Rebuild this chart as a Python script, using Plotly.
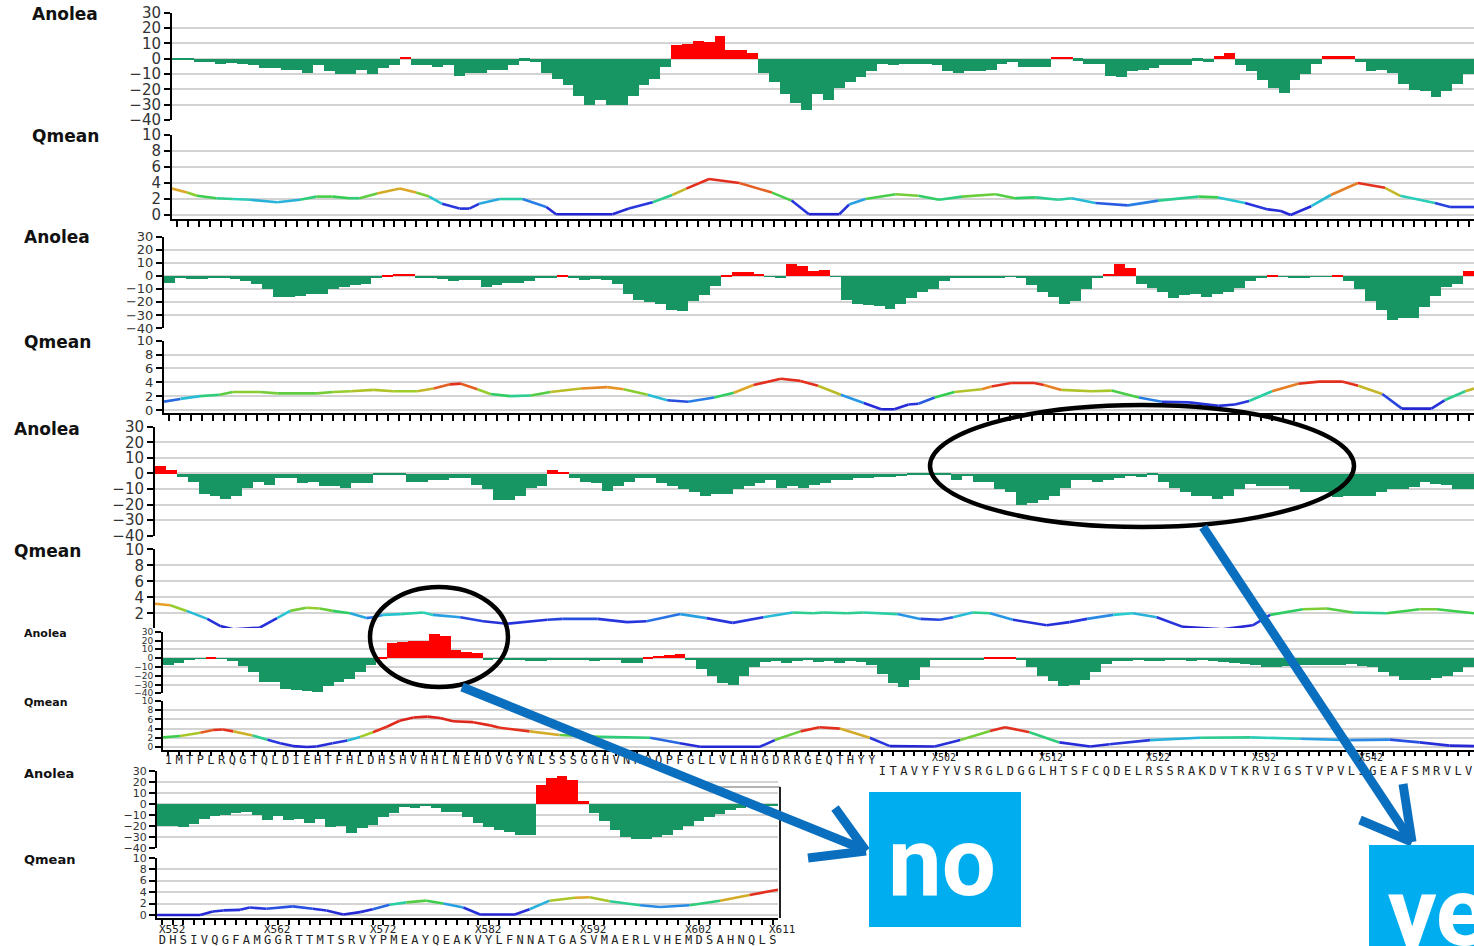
import plotly.graph_objects as go

W, H = 1474, 946

# ---------------- data ----------------
anolea_p1 = [-0.3, -0.3, -2, -2, -3, -2.5, -3, -4, -6, -6,
             -7, -7, -9, -4, -8, -10, -10, -7, -10, -6,
             -4, 1, -4, -4, -5, -4, -11, -9, -9, -7,
             -7, -4, -1, -2, -9, -13, -17, -24, -30, -27,
             -30, -30, -24, -17, -13, -5, 9, 10, 12, 11,
             15, 6, 6, 4, -9, -15, -23, -29, -33, -23,
             -27, -19, -15, -12, -8, -3, -4, -3, -3, -3,
             -4, -8, -9, -8, -8, -7, -3, -2, -5, -5,
             -5, 1, 1, -1, -3, -3, -11, -12, -8, -7,
             -6, -4, -4, -4, -1, -2, 2, 4, -4, -8,
             -14, -19, -22, -14, -10, -3, 2, 2, 2, -2,
             -8, -7, -9, -16, -20, -21, -25, -21, -16, -10]
qmean_p1_x = [-0.5, 0.9, 1.8, 3.6, 5.1, 6.7, 9.2, 11.3, 12.8, 14.3,
              15.9, 16.8, 18.4, 20.5, 22.0, 23.2, 24.4, 26.0, 26.9, 27.8,
              29.7, 31.8, 34.0, 34.9, 40.1, 41.6, 43.8, 45.6, 46.9, 49.0,
              51.8, 54.8, 56.6, 58.2, 61.0, 61.9, 63.4, 66.2, 68.3, 70.2,
              72.3, 75.4, 77.2, 79.1, 81.2, 82.4, 84.6, 87.6, 90.4, 94.1,
              95.9, 98.4, 100.5, 101.7, 102.6, 104.5, 106.3, 108.8, 111.3, 112.7,
              115.9, 117.3, 119.5]
qmean_p1_y = [3.3, 2.8, 2.4, 2.1, 2.0, 1.9, 1.6, 1.9, 2.3, 2.3,
              2.1, 2.1, 2.7, 3.3, 2.8, 2.3, 1.4, 0.8, 0.8, 1.4,
              2.0, 2.0, 1.0, 0.1, 0.1, 0.8, 1.6, 2.5, 3.3, 4.5,
              4.0, 2.8, 1.8, 0.1, 0.1, 1.3, 2.0, 2.6, 2.4, 1.9,
              2.3, 2.6, 2.1, 2.2, 1.9, 2.1, 1.5, 1.2, 1.8, 2.3,
              2.2, 1.5, 0.7, 0.5, 0.0, 1.1, 2.5, 4.0, 3.4, 2.4,
              1.5, 1.0, 1.0]

anolea_p2 = [-5, -1, -2, -2, -1, -1, -2, -4, -6, -10,
             -16, -16, -15, -14, -14, -10, -8, -7, -6, -1,
             1, 2, 2, -1, -1, -2, -4, -3, -3, -8,
             -7, -5, -5, -4, -1, -1, 1, -1, -3, -2,
             -3, -6, -14, -18, -20, -21, -26, -27, -19, -14.5,
             -7.6, 1, 3, 3, 2, -0.5, -1, 9, 8, 4,
             5, -0.5, -18, -21, -22, -23, -25, -21, -17, -12,
             -10, -4, -1, -1, -1, -1, -1, -0.5, -1, -7,
             -12, -16, -21, -19, -10, -1.5, 2, 9, 6, -6,
             -9, -12, -17, -14.5, -14, -16, -14, -12, -9, -4,
             -1, 1, -0.5, -1, -1, -0.5, -0.5, 1, -4, -10,
             -19, -26, -34, -32, -32, -24, -15, -8, -6, 4]
qmean_p2_x = [-0.5, 1.0, 2.8, 4.6, 5.8, 8.3, 9.9, 13.5, 15.0, 16.6,
              18.7, 20.5, 22.7, 24.2, 25.7, 26.7, 28.2, 29.4, 31.2, 33.1,
              34.9, 37.7, 40.1, 41.6, 43.8, 45.6, 47.5, 49.9, 51.7, 53.5,
              56.0, 57.8, 59.4, 61.5, 63.6, 65.2, 66.4, 67.7, 68.6, 70.1,
              71.9, 74.4, 75.3, 77.1, 79.2, 80.1, 81.7, 84.5, 86.3, 88.8,
              90.9, 93.4, 96.1, 97.6, 98.9, 101.0, 103.4, 105.3, 107.4, 108.9,
              111.1, 112.9, 115.6, 116.8, 118.7, 119.5]
qmean_p2_y = [1.2, 1.6, 2.0, 2.2, 2.6, 2.6, 2.4, 2.4, 2.6, 2.7,
              2.9, 2.7, 2.7, 3.1, 3.7, 3.8, 3.0, 2.3, 2.0, 2.1,
              2.6, 3.1, 3.3, 3.0, 2.2, 1.4, 1.2, 1.8, 2.5, 3.6,
              4.5, 4.2, 3.5, 2.2, 1.0, 0.1, 0.1, 0.8, 0.9, 1.8,
              2.6, 3.0, 3.4, 3.9, 3.9, 3.6, 2.9, 2.7, 2.8, 1.8,
              1.2, 1.1, 0.6, 0.8, 1.3, 2.7, 3.8, 4.1, 4.1, 3.5,
              2.3, 0.2, 0.2, 1.4, 2.7, 3.1]

anolea_p3 = [5, 2.5, -2, -5, -13, -14.5, -16, -14, -9, -5,
             -7, -3, -2.5, -6, -5, -8, -8, -9, -6, -6,
             -0.5, -1, -0.5, -5, -5, -4, -4, -3, -3, -7,
             -10, -17, -17, -14, -9, -8, 2.5, 1, -3, -5,
             -6, -11, -8, -5, -3, -3, -6, -8, -10, -12,
             -14, -13, -13, -10, -8, -6, -4, -9, -8, -9,
             -7, -6, -4, -4, -3, -3, -2, -2, -1.5, -0.5,
             -1, -1, -1, -4, -1.5, -5, -5, -10, -12, -20,
             -19, -17, -14, -9, -4, -4, -5, -4, -2.5, -1.5,
             -2, -1, -5, -9, -12, -14, -14, -16, -14, -10,
             -6.5, -8, -8, -8, -10, -12, -12, -12, -15, -14,
             -14, -14, -12, -10, -10, -8.5, -5.5, -6.5, -7.5, -10, -10]
qmean_p3_x = [-0.5, 0.9, 2.4, 4.3, 5.5, 6.7, 9.1, 10.7, 11.9, 13.4,
              14.6, 15.8, 17.4, 18.9, 19.5, 20.4, 22.0, 24.1, 25.0, 27.5,
              29.6, 31.8, 35.5, 36.9, 40.1, 42.8, 44.6, 47.7, 50.1, 52.5,
              55.3, 58.0, 59.9, 60.8, 63.0, 64.5, 67.6, 69.7, 71.5, 72.7,
              74.5, 76.1, 78.2, 81.3, 83.4, 85.0, 87.4, 89.2, 91.4, 93.8,
              97.4, 100.2, 101.8, 104.8, 107.0, 109.4, 112.5, 115.5, 117.1, 120.5]
qmean_p3_y = [3.2, 3.0, 2.3, 1.3, 0.4, 0.0, 0.2, 1.4, 2.3, 2.7,
              2.6, 2.3, 2.0, 1.4, 1.5, 1.8, 1.9, 2.1, 1.8, 1.5,
              1.0, 0.7, 1.2, 1.3, 1.3, 0.9, 1.0, 1.9, 1.4, 0.8,
              1.5, 2.1, 2.0, 2.1, 2.0, 2.1, 1.9, 1.3, 1.2, 1.5,
              2.1, 2.0, 1.2, 0.5, 0.9, 1.3, 1.8, 2.0, 1.5, 0.3,
              0.0, 0.5, 1.8, 2.5, 2.6, 2.1, 2.0, 2.5, 2.5, 2.0]

anolea_p4 = [-7, -5, -2, -0.3, 1, -0.5, -3, -9, -15, -27,
             -27, -35, -36, -37, -38, -31, -27, -23, -16, -8,
             2, 17, 19, 20, 20, 28, 26, 10, 7, 6,
             -1, -0.5, -1, -1, -3, -3, -2, -2, -2, -2,
             -3, -2, -2, -5, -5, 2, 3, 4, 5, -1,
             -12, -20, -28, -30, -20, -10, -4, -3, -5, -3,
             -2, -4, -3, -5, -3, -4, -8, -18, -28, -32,
             -24, -10, -2, -1, -1, -1, -1, 1, 1, 1,
             -2, -10, -20, -26, -31, -30, -24, -15, -6, -3,
             -3, -2, -3, -3, -2, -2, -3, -2, -3, -4,
             -5, -6, -8, -10, -10, -9, -8, -7, -7, -8,
             -7, -6, -9, -10, -15, -20, -24, -25, -24, -22,
             -20, -16, -10]
qmean_p4_x = [-0.5, 1.1, 3.0, 4.2, 5.1, 6.1, 7.9, 9.3, 10.5, 11.7,
              13.0, 13.9, 15.4, 16.8, 18.0, 19.2, 20.5, 21.7, 23.0, 24.3,
              25.5, 26.7, 28.6, 30.2, 31.1, 33.9, 36.7, 40.5, 45.2, 48.0,
              49.9, 55.5, 56.9, 59.3, 61.1, 63.0, 65.8, 67.7, 71.9, 74.3,
              77.1, 78.5, 80.8, 83.6, 86.5, 88.3, 92.1, 96.8, 101.5, 106.2,
              110.9, 114.6, 117.4, 120.2, 122.5]
qmean_p4_y = [2.1, 2.4, 3.1, 3.7, 3.8, 3.4, 2.5, 1.6, 0.8, 0.2,
              0.0, 0.1, 0.8, 1.4, 2.2, 3.2, 4.4, 5.7, 6.4, 6.6,
              6.3, 5.6, 5.4, 4.7, 4.2, 3.4, 2.6, 2.2, 2.0, 0.8,
              0.05, 0.05, 1.5, 3.4, 4.3, 4.0, 2.0, 0.2, 0.1, 1.5,
              3.5, 4.3, 3.2, 1.0, 0.1, 0.6, 1.5, 2.0, 2.1, 1.8,
              1.5, 1.6, 1.0, 0.3, 0.2]
seq_p4_left = "1MTPLRQGTQLDIEHTFHLDHSHVHHLNEHDVGYNLSSSGGHVNRQQPFGLLVLHHGDRRGEQTHYY"
seq_p4_right = "ITAVYFYVSRGLDGGLHTSFCQDELRSSRAKDVTKRVIGSTVPVLSGEAFSMRVLV"
seq_p4_right_start = 497
labels_p4 = ["X502", "X512", "X522", "X532", "X542"]
label_res_p4 = [502, 512, 522, 532, 542]

residues_p5 = list(range(552, 611))
anolea_p5 = [-20, -20, -21, -18, -14, -11, -10, -8, -7, -10,
             -15, -11, -15, -14, -17, -14, -21, -20, -27, -22,
             -19, -12, -8, -3, -4, -2, -4, -7, -7, -12,
             -17, -21, -24, -26, -28, -28, 17, 24, 25, 22,
             3, -8, -16, -24, -30, -32, -32, -30, -28, -24,
             -20, -16, -12, -9, -6, -4, -3, -2, -2]
qmean_p5_x = [551.5, 555.6, 556.8, 557.8, 559.4, 560.3, 561.9, 564.4, 566.3, 567.6,
              569.2, 570.8, 572.0, 573.6, 575.2, 577.1, 578.7, 580.6, 582.2, 585.5,
              586.9, 588.8, 591.2, 592.6, 594.5, 597.4, 599.3, 602.1, 605.0, 607.8,
              610.5]
qmean_p5_y = [0.0, 0.0, 0.6, 0.8, 0.9, 1.3, 1.1, 1.5, 1.1, 0.8,
              0.1, 0.5, 1.0, 1.8, 2.2, 2.5, 2.0, 1.3, 0.1, 0.1,
              1.0, 2.5, 3.0, 3.1, 2.4, 1.7, 1.4, 1.7, 2.5, 3.5,
              4.4]
seq_p5 = "DHSIVQGFAMGGRTTMTSRVYPMEAYQEAKVYLFNNATGASVMAERLVHEMDSAHNQLS"
labels_p5 = ["X552", "X562", "X572", "X582", "X592", "X602", "X611"]
label_res_p5 = [552, 562, 572, 582, 592, 602, 610]

anolea_ticks = [30, 20, 10, 0, -10, -20, -30, -40]
qmean_ticks = [10, 8, 6, 4, 2, 0]

# ---------------- helpers ----------------
def fx(p):
    return p / W


def fy(p):
    return 1 - p / H


GREEN = "#179664"
RED = "#ff0000"
Q_STOPS = [(0.0, (36, 36, 210)), (1.2, (40, 56, 222)), (1.6, (40, 150, 230)),
           (1.9, (40, 205, 205)), (2.2, (50, 205, 80)), (2.7, (160, 205, 40)),
           (3.1, (230, 160, 40)), (3.6, (228, 50, 30)), (8.0, (215, 25, 25))]


def qcolor(v):
    v = max(Q_STOPS[0][0], min(Q_STOPS[-1][0], v))
    for (a, ca), (b, cb) in zip(Q_STOPS[:-1], Q_STOPS[1:]):
        if a <= v <= b:
            t = (v - a) / (b - a) if b > a else 0
            c = [round(ca[i] + t * (cb[i] - ca[i])) for i in range(3)]
            return f"rgb({c[0]},{c[1]},{c[2]})"
    return "rgb(215,25,25)"


SEQFONT = dict(family="DejaVu Sans Mono", size=12, color="#222")
n_left4 = len(seq_p4_left)
n4 = len(anolea_p4)
panels = [
    dict(anolea=anolea_p1, pos=list(range(len(anolea_p1))), qx=qmean_p1_x, qy=qmean_p1_y,
         left=172, a_top=12.7, a_bot=120.0, q_top=135.0, q_zero=215.0, q_bot=219.0,
         fs=15, labfs=17, lab_x=30, a_lab=14, q_lab=136, show_axis=True, ticklen=6,
         ticklabels=None, standoff=0),
    dict(anolea=anolea_p2, pos=list(range(len(anolea_p2))), qx=qmean_p2_x, qy=qmean_p2_y,
         left=164, a_top=236.7, a_bot=328.0, q_top=340.7, q_zero=410.0, q_bot=413.0,
         fs=13, labfs=17, lab_x=22, a_lab=237, q_lab=342, show_axis=True, ticklen=6,
         ticklabels=None, standoff=0),
    dict(anolea=anolea_p3, pos=list(range(len(anolea_p3))), qx=qmean_p3_x, qy=qmean_p3_y,
         left=155, a_top=426.7, a_bot=535.7, q_top=549.3, q_zero=629.3, q_bot=628.0,
         fs=15, labfs=17, lab_x=12, a_lab=429, q_lab=551, show_axis=False, ticklen=6,
         ticklabels=None, standoff=0),
    dict(anolea=anolea_p4, pos=list(range(n4)), qx=qmean_p4_x, qy=qmean_p4_y,
         left=163, a_top=631.7, a_bot=693.3, q_top=701.0, q_zero=747.0, q_bot=750.0,
         fs=9, labfs=11, lab_x=22, a_lab=633, q_lab=702, show_axis=True, ticklen=4,
         ticklabels=list(seq_p4_left) + [""] * len(seq_p4_right), standoff=-6),
    dict(anolea=anolea_p5, pos=residues_p5, qx=qmean_p5_x, qy=qmean_p5_y,
         left=157, right=778, a_top=771.0, a_bot=847.7, q_top=857.7, q_zero=915.0, q_bot=918.0,
         fs=11, labfs=13, lab_x=22, a_lab=773, q_lab=859, show_axis=True, ticklen=5,
         ticklabels=list(seq_p5), standoff=5),
]

fig = go.Figure()
layout = dict(width=W, height=H, autosize=False, margin=dict(l=0, r=0, t=0, b=0, pad=0),
              paper_bgcolor="white", plot_bgcolor="white", showlegend=False,
              bargap=0, barmode="overlay")
annotations = []
shapes = []
TICKFONT = "DejaVu Sans"

for i, p in enumerate(panels):
    ia, iq = 2 * i + 1, 2 * i + 2
    xa = "x" if ia == 1 else f"x{ia}"
    ya = "y" if ia == 1 else f"y{ia}"
    xq, yq = f"x{iq}", f"y{iq}"
    right = p.get("right", 1474)
    xr = [p["pos"][0] - 0.5, p["pos"][-1] + 0.5]
    xdom = [fx(p["left"]), fx(right)]

    # Anolea bars
    fig.add_trace(go.Bar(
        x=p["pos"], y=p["anolea"], width=1,
        marker=dict(color=[RED if v > 0 else GREEN for v in p["anolea"]], line=dict(width=0)),
        xaxis=xa, yaxis=ya, hoverinfo="skip"))

    # Qmean line, coloured by value
    groups = {}
    for j in range(len(p["qx"]) - 1):
        c = qcolor((p["qy"][j] + p["qy"][j + 1]) / 2)
        g = groups.setdefault(c, ([], []))
        g[0].extend([p["qx"][j], p["qx"][j + 1], None])
        g[1].extend([p["qy"][j], p["qy"][j + 1], None])
    for c, (gx, gy) in groups.items():
        fig.add_trace(go.Scatter(x=gx, y=gy, mode="lines",
                                 line=dict(color=c, width=2.6),
                                 xaxis=xq, yaxis=yq, hoverinfo="skip"))

    ppu = (p["q_zero"] - p["q_top"]) / 10.0
    q_lo = -(p["q_bot"] - p["q_zero"]) / ppu

    layout["xaxis" if ia == 1 else f"xaxis{ia}"] = dict(
        domain=xdom, range=xr, anchor=ya, visible=False, fixedrange=True, automargin=False)
    layout[f"yaxis{'' if ia == 1 else ia}"] = dict(
        domain=[fy(p["a_bot"]), fy(p["a_top"])], range=[-40, 30], anchor=xa,
        tickvals=anolea_ticks, showgrid=True, gridcolor="#d3d3d3", gridwidth=2,
        zeroline=False, showline=True, linecolor="black", linewidth=2,
        ticks="outside", ticklen=6, tickwidth=2, tickcolor="black", automargin=False,
        tickfont=dict(family=TICKFONT, size=p["fs"], color="#333"), fixedrange=True)
    xq_ax = dict(domain=xdom, range=xr, anchor=yq, showgrid=False, zeroline=False,
                 fixedrange=True, automargin=False)
    if p["show_axis"]:
        xq_ax.update(showline=True, linecolor="black", linewidth=2, ticks="outside",
                     ticklen=p["ticklen"], tickwidth=2, tickcolor="black",
                     tickvals=p["pos"], showticklabels=False)
        if p["ticklabels"] is not None:
            xq_ax.update(showticklabels=True, ticktext=p["ticklabels"], tickangle=0,
                         ticklabelstandoff=p["standoff"], tickfont=SEQFONT)
    else:
        xq_ax.update(showline=False, ticks="", showticklabels=False)
    layout[f"xaxis{iq}"] = xq_ax
    layout[f"yaxis{iq}"] = dict(
        domain=[fy(p["q_bot"]), fy(p["q_top"])], range=[q_lo, 10], anchor=xq,
        tickvals=qmean_ticks, showgrid=True, gridcolor="#d3d3d3", gridwidth=2,
        zeroline=False, showline=True, linecolor="black", linewidth=2,
        ticks="outside", ticklen=6, tickwidth=2, tickcolor="black", automargin=False,
        tickfont=dict(family=TICKFONT, size=p["fs"], color="#333"), fixedrange=True)

    for txt, yy in (("Anolea", p["a_lab"]), ("Qmean", p["q_lab"])):
        annotations.append(dict(text=f"<b>{txt}</b>", x=fx(p["lab_x"]), y=fy(yy),
                                xref="paper", yref="paper", xanchor="left", yanchor="middle",
                                showarrow=False,
                                font=dict(family="DejaVu Sans", size=p["labfs"], color="#111")))

# second sequence row of panel 4 (slightly lower), on an overlaying axis
right_pos4 = list(range(n_left4, n4))
fig.add_trace(go.Scatter(x=right_pos4, y=[None] * len(right_pos4), mode="markers",
                         xaxis="x11", yaxis="y8", hoverinfo="skip", showlegend=False))
layout["xaxis11"] = dict(overlaying="x8", anchor="y8", side="bottom",
                         range=[-0.5, n4 - 0.5], showgrid=False, zeroline=False,
                         showline=False, ticks="outside", ticklen=4,
                         tickcolor="rgba(0,0,0,0)", tickvals=right_pos4,
                         ticktext=list(seq_p4_right), tickangle=0, ticklabelstandoff=6,
                         tickfont=SEQFONT, fixedrange=True, automargin=False)

# residue-number labels
for lab, r in zip(labels_p4, label_res_p4):
    k = n_left4 + (r - seq_p4_right_start)
    annotations.append(dict(text=lab, x=k - 0.5, y=fy(757), xref="x8", yref="paper",
                            xanchor="left", yanchor="middle", showarrow=False,
                            font=dict(family="DejaVu Sans Mono", size=10, color="#222")))
for lab, r in zip(labels_p5, label_res_p5):
    annotations.append(dict(text=lab, x=r - 0.5, y=fy(929), xref="x10", yref="paper",
                            xanchor="left", yanchor="middle", showarrow=False,
                            font=dict(family="DejaVu Sans Mono", size=11, color="#222")))

# screenshot frame of the last panel
shapes.append(dict(type="line", xref="paper", yref="paper", x0=fx(700), x1=fx(780),
                   y0=fy(787), y1=fy(787), line=dict(color="#999", width=1.5)))
shapes.append(dict(type="line", xref="paper", yref="paper", x0=fx(780), x1=fx(780),
                   y0=fy(787), y1=fy(918), line=dict(color="#222", width=2)))

# callout ellipses
for cx, cy, rx, ry in ((1142, 466, 212, 61), (439, 637, 69, 50)):
    shapes.append(dict(type="circle", xref="paper", yref="paper",
                       x0=fx(cx - rx), x1=fx(cx + rx), y0=fy(cy + ry), y1=fy(cy - ry),
                       line=dict(color="black", width=4.5), layer="above"))

BLUE = "#0A6FBF"
# arrows (shaft + open chevron head)
for seg in (((462, 687), (860, 848)), ((808, 858), (866, 851)), ((835, 808), (866, 851)),
            ((1203, 527), (1409, 838)), ((1360, 820), (1412, 842)), ((1403, 784), (1412, 842))):
    (x0, y0), (x1, y1) = seg
    shapes.append(dict(type="line", xref="paper", yref="paper",
                       x0=fx(x0), y0=fy(y0), x1=fx(x1), y1=fy(y1),
                       line=dict(color=BLUE, width=9), layer="above"))

# label boxes
CYAN = "#00AEEF"
shapes.append(dict(type="rect", xref="paper", yref="paper", x0=fx(869), x1=fx(1021),
                   y0=fy(927), y1=fy(792), fillcolor=CYAN, line=dict(width=0), layer="above"))
shapes.append(dict(type="rect", xref="paper", yref="paper", x0=fx(1369), x1=fx(1474),
                   y0=fy(946), y1=fy(845), fillcolor=CYAN, line=dict(width=0), layer="above"))
annotations.append(dict(text="<b>no</b>", x=fx(942), y=fy(862), xref="paper", yref="paper",
                        xanchor="center", yanchor="middle", showarrow=False,
                        font=dict(family="Roboto", size=96, color="white")))
annotations.append(dict(text="<b>yes</b>", x=fx(1386), y=fy(912), xref="paper", yref="paper",
                        xanchor="left", yanchor="middle", showarrow=False,
                        font=dict(family="Roboto", size=96, color="white")))

layout["annotations"] = annotations
layout["shapes"] = shapes
fig.update_layout(**layout)

fig.write_html("out.html", config={"displayModeBar": False},
               post_script="document.body.style.margin='0';document.body.style.overflow='hidden';")
